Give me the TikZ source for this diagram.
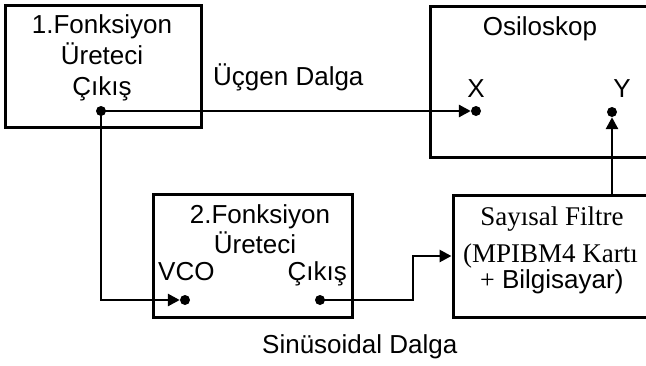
\documentclass[tikz,border=0pt]{standalone}
\usepackage{fontspec}
\setmainfont{Liberation Sans}
\newfontfamily\serifrm{Liberation Serif}
\usetikzlibrary{arrows.meta}
\tikzset{
  blk/.style={draw, line width=3pt, inner sep=0pt},
  lbl/.style={inner sep=0pt, anchor=base, font=\fontsize{26}{30}\selectfont},
  slbl/.style={inner sep=0pt, anchor=base, font=\fontsize{27}{30}\selectfont\serifrm},
  pin/.style={circle, fill, inner sep=0pt, minimum size=10pt},
  conn/.style={line width=2.8pt, -{Triangle[length=12pt,width=12pt]}},
  wire/.style={line width=2.8pt}
}
\begin{document}
\begin{tikzpicture}[x=1pt,y=-1pt]
\clip (0,0) rectangle (646,365);
\fill[white] (0,0) rectangle (646,365);
% boxes
\node[blk, minimum width=196pt, minimum height=122pt] (gen1) at (103,66) {};
\node[blk, minimum width=260pt, minimum height=151pt] (osc) at (560,81.5) {};
\node[blk, minimum width=199pt, minimum height=123pt] (gen2) at (252.5,255.5) {};
\node[blk, minimum width=240pt, minimum height=122pt] (filt) at (573,256) {};
% texts
\node[lbl] (t1a) at (102,33) {1.Fonksiyon};
\node[lbl] (t1b) at (102,64) {Üreteci};
\node[lbl] (t1c) at (102,95) {Çıkış};
\node[lbl, anchor=base west] (ucg) at (213,85) {Üçgen Dalga};
\node[lbl] (tosc) at (540,35) {Osiloskop};
\node[lbl] (tx) at (476,97) {X};
\node[lbl] (ty) at (622,97) {Y};
\node[lbl] (t2a) at (260,223) {2.Fonksiyon};
\node[lbl] (t2b) at (255,253) {Üreteci};
\node[lbl, anchor=base west] (tvco) at (158,280) {VCO};
\node[lbl, anchor=base east] (t2c) at (347,280) {Çıkış};
\node[slbl] (tf1) at (552,225) {Sayısal Filtre};
\node[slbl, anchor=base west] (tf2) at (463,262) {(MPIBM4 Kartı};
\node[lbl, anchor=base west] (tf3) at (480,288) {{\serifrm +} Bilgisayar)};
\node[lbl, anchor=base west] (sin) at (262,353) {Sinüsoidal Dalga};
% pins
\node[pin] (p1) at (101,111) {};
\node[pin] (px) at (476,111) {};
\node[pin] (py) at (612,112) {};
\node[pin] (pvco) at (185,300) {};
\node[pin] (pout) at (320,300) {};
\coordinate (c1) at (413,300);
\coordinate (ftop) at (612,195);
% connectors
\draw[conn] (p1.center) -- (px.west);
\draw[conn] (p1.center) |- (pvco.west);
\draw[conn] (pout.center) -- (c1) |- (filt.west);
\draw[conn] (ftop) -- (py.south);
\end{tikzpicture}
\end{document}
